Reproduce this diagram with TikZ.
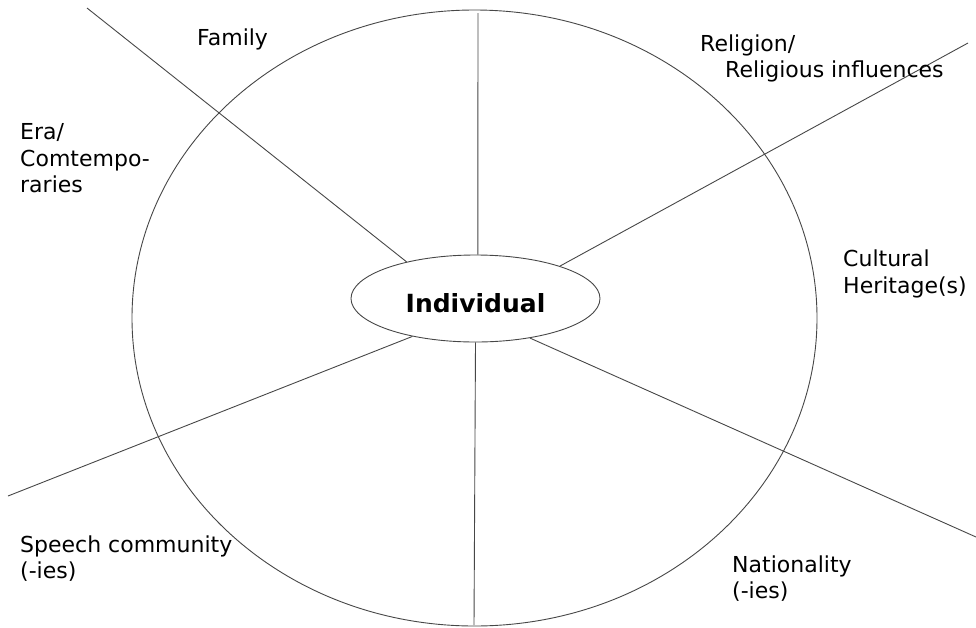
\documentclass[tikz,border=0pt]{standalone}
\usepackage{fontspec}
\setmainfont{DejaVu Sans}
\usetikzlibrary{shapes.geometric}
\begin{document}
\begin{tikzpicture}[x=1pt,y=-1pt,
  stroke/.style={draw=black!72,line width=0.9pt},
  label/.style={anchor=base west,inner sep=0pt,font=\fontsize{22}{26}\selectfont},
  hub/.style={ellipse,stroke,inner sep=0pt,minimum width=249pt,minimum height=87pt,
    font=\fontsize{25}{30}\selectfont\bfseries,text height=27pt,text depth=0pt},
  ringshape/.style={ellipse,stroke,inner sep=0pt,minimum width=685pt,minimum height=616pt}]
\useasboundingbox (0,0) rectangle (976,627);

% outer ring and central hub
\node[ringshape] (ring) at (474.5,318) {};
\node[hub] (ind) at (475.5,298.5) {Individual};

% free ends of the spokes
\coordinate (eTop) at (478,13);
\coordinate (eUL) at (87,8);
\coordinate (eUR) at (968,43);
\coordinate (eLL) at (8,496);
\coordinate (eLR) at (976,537);
\coordinate (eBot) at (474,625);

% spokes
\draw[stroke] (ind.87) -- (eTop);
\draw[stroke] (ind.152.6) -- (eUL);
\draw[stroke] (ind.21.2) -- (eUR);
\draw[stroke] (ind.211.2) -- (eLL);
\draw[stroke] (ind.324) -- (eLR);
\draw[stroke] (ind.270.5) -- (eBot);

% sector labels
\node[label] (family) at (197,45) {Family};
\node[label] (era1) at (20,139) {Era/};
\node[label] (era2) at (20,166) {Comtempo-};
\node[label] (era3) at (20,192) {raries};
\node[label] (rel1) at (700,51) {Religion/};
\node[label] (rel2) at (725,77) {Religious influences};
\node[label] (cult1) at (843,266) {Cultural};
\node[label] (cult2) at (843,293) {Heritage(s)};
\node[label] (speech1) at (20,552) {Speech community};
\node[label] (speech2) at (20,578) {(-ies)};
\node[label] (nat1) at (732,572) {Nationality};
\node[label] (nat2) at (732,598) {(-ies)};
\end{tikzpicture}
\end{document}
